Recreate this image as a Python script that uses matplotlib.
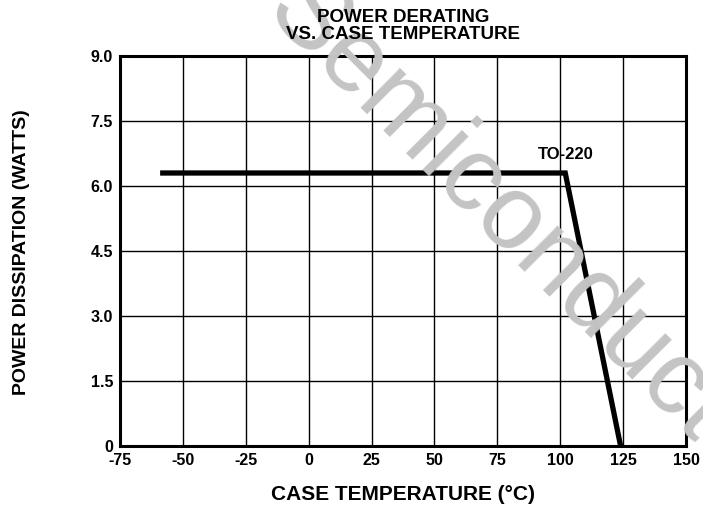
import matplotlib
matplotlib.use("Agg")
import matplotlib.pyplot as plt

plt.rcParams['font.family'] = ['Liberation Sans', 'DejaVu Sans']
plt.rcParams['font.weight'] = 'bold'
plt.rcParams['axes.unicode_minus'] = False

# derating curve (TO-220)
temp = [-58, 102, 124]
power = [6.3, 6.3, 0.0]

xticks = [-75, -50, -25, 0, 25, 50, 75, 100, 125, 150]
yticks = [0, 1.5, 3.0, 4.5, 6.0, 7.5, 9.0]
ylabels = ['0', '1.5', '3.0', '4.5', '6.0', '7.5', '9.0']

fig = plt.figure(figsize=(7.03, 5.12), dpi=100)
ax = fig.add_axes([120/703, 1-446/512, 566/703, 390/512])
ax.patch.set_alpha(0)

# watermark
fig.text(262/703, 1-14/512, 'Semiconductor', rotation=-45, fontsize=76, fontweight='normal',
         color='#c4c4c4', ha='left', va='baseline', zorder=0, rotation_mode='anchor')

ax.plot(temp, power, color='black', lw=3.8, solid_joinstyle='miter', zorder=3)
ax.text(102, 6.55, 'TO-220', ha='center', va='bottom', fontsize=12, fontweight='bold')

ax.set_xlim(-75, 150)
ax.set_ylim(0, 9)
ax.set_xticks(xticks)
ax.set_yticks(yticks)
ax.set_yticklabels(ylabels)
ax.grid(True, color='black', lw=1.0)
ax.tick_params(length=0, labelsize=11.5, pad=5)
for s in ax.spines.values():
    s.set_linewidth(2.2)

fig.text(403/703, 1-26/512, 'POWER DERATING\nVS. CASE TEMPERATURE', ha='center', va='center',
         fontsize=13.5, fontweight='bold', linespacing=0.95)
ax.set_xlabel('CASE TEMPERATURE (°C)', fontsize=15, fontweight='bold', labelpad=12)
fig.text(22/703, 1-252/512, 'POWER DISSIPATION (WATTS)', rotation=90, ha='center', va='center',
         fontsize=14, fontweight='bold')

fig.savefig('out.png', dpi=100)
